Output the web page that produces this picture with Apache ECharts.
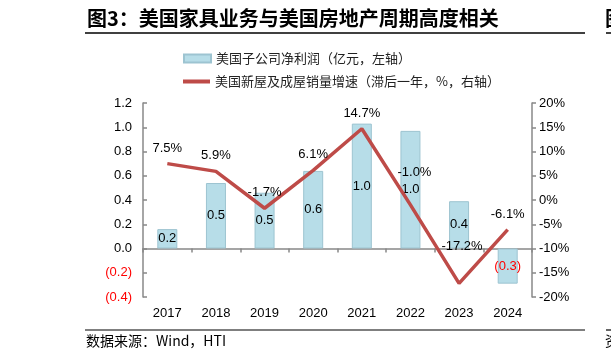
<!DOCTYPE html>
<html><head><meta charset="utf-8">
<script src="https://cdn.jsdelivr.net/npm/echarts@6/dist/echarts.min.js"></script>
<style>html,body{margin:0;padding:0;background:#fff}#c{width:611px;height:364px}</style>
</head><body><div id="c"></div>
<script>
var years = ['2017','2018','2019','2020','2021','2022','2023','2024'];
var profit = [0.16, 0.54, 0.46, 0.64, 1.03, 0.97, 0.39, -0.29];
var salesGrowth = [7.5, 5.9, -1.7, 6.1, 14.7, -1.0, -17.2, -6.1];
var leftTicks = {min: -0.4, max: 1.2, interval: 0.2};
var rightTicks = {min: -20, max: 20, interval: 5};
var barName = '美国子公司净利润（亿元，左轴）';
var lineName = '美国新屋及成屋销量增速（滞后一年，%，右轴）';

var NUM = "'Liberation Sans', Arial, sans-serif";
var CJK = "'Noto Sans CJK SC', sans-serif";
var chart = echarts.init(document.getElementById('c'));

var lineLabelOffsets = {5: [4, -17], 6: [3, -21]};
var lineData = salesGrowth.map(function (v, i) {
  var d = {value: v};
  if (lineLabelOffsets[i]) d.label = {offset: lineLabelOffsets[i]};
  return d;
});
var barData = profit.map(function (v) {
  var d = {value: v};
  if (v < 0) d.label = {color: '#ff0000'};
  return d;
});

chart.setOption({
  animation: false,
  textStyle: {fontFamily: NUM},
  grid: {left: 143, right: 79, top: 103, bottom: 67, containLabel: false},
  legend: [
    {data: [barName], left: 178, top: 47, itemWidth: 27, itemHeight: 8, itemGap: 4,
     icon: 'rect', textStyle: {fontFamily: CJK, fontSize: 13, color: '#222'}},
    {data: [lineName], left: 178, top: 70, itemWidth: 27, itemHeight: 4, itemGap: 4,
     icon: 'rect', textStyle: {fontFamily: CJK, fontSize: 13, color: '#222'}}
  ],
  xAxis: {
    type: 'category', data: years, boundaryGap: true,
    axisLine: {onZero: true, lineStyle: {color: '#888', width: 1.5}},
    axisTick: {show: true, length: 4, lineStyle: {color: '#888', width: 1.5}},
    axisLabel: {margin: 10, fontSize: 13, color: '#000', fontFamily: NUM},
    splitLine: {show: false}
  },
  yAxis: [
    {type: 'value', min: leftTicks.min, max: leftTicks.max, interval: leftTicks.interval,
     position: 'left',
     axisLine: {show: true, onZero: false, lineStyle: {color: '#888', width: 1.5}},
     axisTick: {show: true, inside: true, length: 4, lineStyle: {color: '#888', width: 1.5}},
     splitLine: {show: false},
     axisLabel: {margin: 11, fontSize: 13, color: '#000', fontFamily: NUM,
       formatter: function (v) {
         var r = Math.round(v * 10) / 10;
         if (r < 0) return '{neg|(' + Math.abs(r).toFixed(1) + ')}';
         return r.toFixed(1);
       },
       rich: {neg: {color: '#ff0000', fontSize: 13, fontFamily: NUM}}}
    },
    {type: 'value', min: rightTicks.min, max: rightTicks.max, interval: rightTicks.interval,
     position: 'right',
     axisLine: {show: true, onZero: false, lineStyle: {color: '#888', width: 1.5}},
     axisTick: {show: true, inside: false, length: 4, lineStyle: {color: '#888', width: 1.5}},
     splitLine: {show: false},
     axisLabel: {margin: 7, fontSize: 13, color: '#000', fontFamily: NUM,
       formatter: function (v) { return Math.round(v) + '%'; }}
    }
  ],
  series: [
    {name: barName, type: 'bar', data: barData, barWidth: 20, yAxisIndex: 0,
     itemStyle: {color: '#B7DDE8', borderColor: '#9DC4D1', borderWidth: 1},
     label: {show: true, position: 'inside', fontSize: 13, color: '#000', fontFamily: NUM,
       formatter: function (p) {
         var v = p.value;
         return v < 0 ? '(' + Math.abs(v).toFixed(1) + ')' : v.toFixed(1);
       }}
    },
    {name: lineName, type: 'line', data: lineData, yAxisIndex: 1,
     symbol: 'circle', symbolSize: 0, showSymbol: true,
     lineStyle: {color: '#BE4B48', width: 3.5}, itemStyle: {color: '#BE4B48'},
     label: {show: true, position: 'top', distance: 9, fontSize: 13, color: '#000', fontFamily: NUM,
       formatter: function (p) { return p.value.toFixed(1) + '%'; }},
     z: 5}
  ],
  graphic: [
    {type: 'text', left: 87, top: 8, style: {text: '图3：美国家具业务与美国房地产周期高度相关',
      font: 'bold 20px ' + CJK, fill: '#000'}},
    {type: 'line', shape: {x1: 85, y1: 33, x2: 585, y2: 33}, style: {stroke: '#000', lineWidth: 1.5}},
    {type: 'line', shape: {x1: 606, y1: 33, x2: 611, y2: 33}, style: {stroke: '#000', lineWidth: 1.5}},
    {type: 'text', left: 605, top: 8, style: {text: '图', font: 'bold 20px ' + CJK, fill: '#000'}},
    {type: 'line', shape: {x1: 85, y1: 330, x2: 585, y2: 330}, style: {stroke: '#000', lineWidth: 1.2}},
    {type: 'line', shape: {x1: 606, y1: 330, x2: 611, y2: 330}, style: {stroke: '#000', lineWidth: 1.2}},
    {type: 'text', left: 86, top: 334, style: {text: '数据来源：Wind，HTI',
      font: '14px ' + CJK, fill: '#000'}},
    {type: 'text', left: 605, top: 334, style: {text: '资', font: '14px ' + CJK, fill: '#000'}}
  ]
});
</script></body></html>
